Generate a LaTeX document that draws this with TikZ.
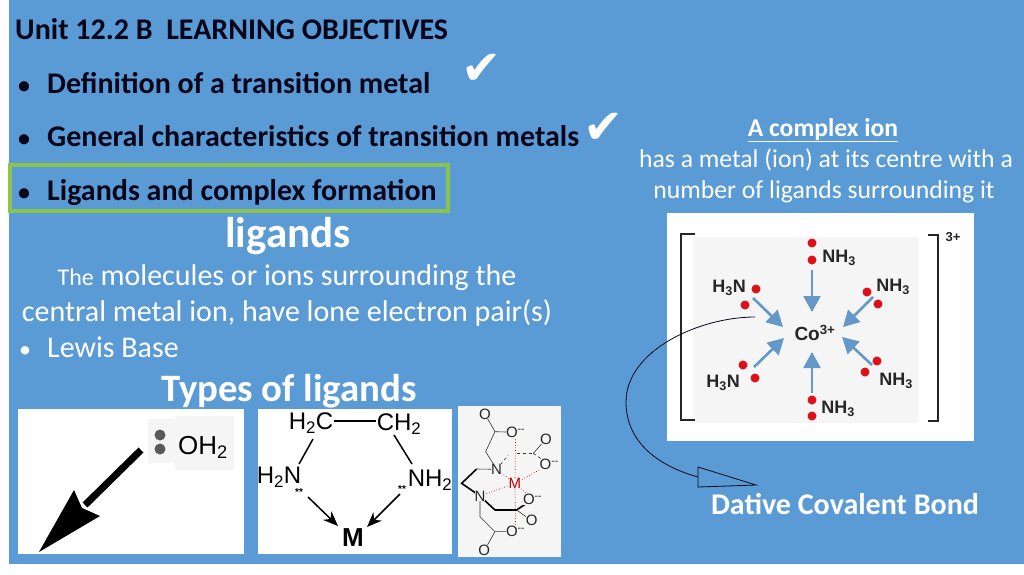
\documentclass[tikz,border=0pt]{standalone}
\usepackage{fontspec}
\setmainfont{Carlito}
\newfontfamily\helv{Liberation Sans}
\newfontfamily\checkfont{DejaVu Sans}
\usetikzlibrary{arrows.meta}
\definecolor{slideblue}{HTML}{5B9BD5}
\definecolor{boxgreen}{HTML}{8BC34F}
\definecolor{ink}{HTML}{06061A}
\definecolor{dotred}{HTML}{E0101A}
\definecolor{arrowblue}{HTML}{6498C8}
\definecolor{pale}{HTML}{F5F5F5}
\newcommand{\fs}[1]{\fontsize{#1}{#1}\selectfont}
\newcommand{\sbs}[1]{\textsubscript{#1}}
\tikzset{
  x=1pt,y=-1pt,
  obj/.style={font=\fs{30}\bfseries,text=ink,anchor=base west,inner sep=0pt},
  bul/.style={font=\fs{24}\bfseries,text=ink,anchor=base west,inner sep=0pt},
  wtext/.style={font=\fs{30},text=white,anchor=base,inner sep=0pt},
  whead/.style={font=\fs{43}\bfseries,text=white,anchor=base,inner sep=0pt},
  chk/.style={font=\checkfont\fs{48},text=white,inner sep=0pt},
  panel/.style={fill=white,draw=none},
  chem/.style={font=\helv\fs{18}\bfseries,text=black!85,inner sep=0pt},
  edot/.style={circle,fill=dotred,minimum size=9pt,inner sep=0pt},
  bluearrow/.style={draw=arrowblue,line width=2.6pt,-{Triangle[length=16pt,width=17pt,fill=arrowblue]}},
  bond/.style={line width=1.5pt,black},
  ethlab/.style={font=\helv\fs{24},inner sep=0pt},
  edta/.style={line width=0.6pt,black!80},
  edtab/.style={line width=1.6pt,black},
  edtar/.style={line width=0.7pt,dotted,red!75!black},
  edtal/.style={font=\helv\fs{15},inner sep=0pt,fill=pale,text=black!85},
}
\begin{document}
\begin{tikzpicture}
\useasboundingbox (0,0) rectangle (1024,574);
\fill[white] (0,0) rectangle (1024,574);
\fill[slideblue] (9,0) rectangle (1024,564);

% objectives
\node[obj] (t0) at (15,39.5) {Unit 12.2 B\ \ LEARNING OBJECTIVES};
\node[bul] (b1) at (18,93) {\textbullet};
\node[obj] (t1) at (47,93.5) {Definition of a transition metal};
\node[bul] (b2) at (18,146) {\textbullet};
\node[obj] (t2) at (47,146.5) {General characteristics of transition metals};
\node[bul] (b3) at (18,200) {\textbullet};
\node[obj] (t3) at (47,200.5) {Ligands and complex formation};
\node[chk] (c1) at (482,69) {\char"2714};
\node[chk] (c2) at (604,128) {\char"2714};
\node[draw=boxgreen,line width=4pt,minimum width=438pt,minimum height=46pt,inner sep=0pt] (green) at (229,187.5) {};

% ligands text
\node[whead] (lig) at (288,247) {ligands};
\node[wtext] (l1) at (287,285) {{\fs{24}The} molecules or ions surrounding the};
\node[wtext] (l2) at (287,321) {central metal ion, have lone electron pair(s)};
\node[wtext,anchor=base west,font=\fs{24}] (l3) at (19,357) {\textbullet};
\node[wtext,anchor=base west] (l3b) at (47,357) {Lewis Base};
\node[whead,font=\fs{38.8}\bfseries] (types) at (289,401) {Types of ligands};

% complex ion text
\node[wtext,font=\fs{25.6}\bfseries] (ci0) at (823,136) {\underline{A complex ion}};
\node[wtext,font=\fs{25.7}] (ci1) at (826,167) {has a metal (ion) at its centre with a};
\node[wtext,font=\fs{25.7}] (ci2) at (824,198) {number of ligands surrounding it};
\node[whead,font=\fs{30}\bfseries] (dative) at (845,514) {Dative Covalent Bond};

% complex panel
\fill[white] (667,213) rectangle (974,441);
\fill[pale] (693,237) rectangle (918,423);
\draw[line width=1.2pt,black!85] (695,234) -- (681,234) -- (681,420) -- (695,420);
\draw[line width=1.2pt,black!85] (928,235) -- (938,235) -- (938,421) -- (928,421);
\node[chem,font=\helv\fs{13}\bfseries] (charge) at (953,237) {3+};
\node[chem,font=\helv\fs{19}\bfseries] (co) at (815,333) {Co\textsuperscript{3+}};
\node[chem] (n1) at (839,258) {NH\sbs{3}};
\node[chem] (n2) at (893,287) {NH\sbs{3}};
\node[chem] (n3) at (896,381) {NH\sbs{3}};
\node[chem] (n4) at (838,409) {NH\sbs{3}};
\node[chem] (n5) at (723,383) {H\sbs{3}N};
\node[chem] (n6) at (729,288) {H\sbs{3}N};
\foreach \nm/\px/\py in {d1/812/243,d2/812/260,d3/867/292,d4/878/304,d5/877/361,d6/865/372,d7/812/400,d8/812/416,d9/743/365,d10/755/378,d11/756/289,d12/745/305}
  \node[edot] (\nm) at (\px,\py) {};
\coordinate (a1s) at (812,270); \coordinate (a1e) at (812,312);
\coordinate (a2s) at (873,297); \coordinate (a2e) at (843,327);
\coordinate (a3s) at (872,365); \coordinate (a3e) at (842,337);
\coordinate (a4s) at (812,393); \coordinate (a4e) at (812,352);
\coordinate (a5s) at (754,367); \coordinate (a5e) at (784,338);
\coordinate (a6s) at (753,298); \coordinate (a6e) at (783,327);
\foreach \i in {1,...,6} \draw[bluearrow] (a\i s) -- (a\i e);

% dative callout
\coordinate (cs) at (755,317);
\coordinate (ce) at (698,477);
\draw[line width=0.8pt,ink] (cs) .. controls (700,317) and (626,350) .. (626,402) .. controls (626,440) and (655,465) .. (ce);
\coordinate (h1) at (698,467); \coordinate (h2) at (698,487); \coordinate (h3) at (756,485);
\draw[line width=0.8pt,ink] (h1) -- (h3) -- (h2) -- cycle;

% water panel
\fill[panel] (18,409) rectangle (244,554);
\fill[pale] (148,419) rectangle (175,463);
\fill[pale] (175,416) rectangle (234,470);
\node[circle,fill=black!65,minimum size=11pt,inner sep=0pt] (w1) at (160,435) {};
\node[circle,fill=black!65,minimum size=11pt,inner sep=0pt] (w2) at (160,449) {};
\node[font=\helv\fs{26},inner sep=0pt] (oh2) at (203,447) {OH\sbs{2}};
\coordinate (wa) at (141,450); \coordinate (wb) at (85,505);
\draw[line width=7pt,black] (wa) -- (wb);
\fill[black] (74,490) -- (82,508) -- (100,516) -- (39,552) -- cycle;

% ethylenediamine panel
\fill[panel] (258,409) rectangle (452,554);
\node[ethlab] (ch2a) at (311,423) {H\sbs{2}C};
\node[ethlab] (ch2b) at (399,424) {CH\sbs{2}};
\node[ethlab] (nh2a) at (279,477) {H\sbs{2}N};
\node[ethlab] (nh2b) at (430,480) {NH\sbs{2}};
\node[font=\helv\fs{26}\bfseries,inner sep=0pt] (mm) at (353,538) {M};
\node[font=\helv\fs{10}\bfseries,inner sep=0pt] (s1) at (299,492) {**};
\node[font=\helv\fs{10}\bfseries,inner sep=0pt] (s2) at (402,489) {**};
\draw[bond] (334,421) coordinate (e1) -- (376,421) coordinate (e2);
\draw[bond] (313,439) coordinate (e3) -- (299,464) coordinate (e4);
\draw[bond] (394,435) coordinate (e5) -- (412,464) coordinate (e6);
\draw[line width=1.5pt,-{Stealth[length=15pt,width=12pt]}] (s1) ++(9,5) -- (338,526);
\draw[line width=1.5pt,-{Stealth[length=15pt,width=12pt]}] (s2) ++(-2,5) -- (367,527);

% edta panel
\fill[pale] (458,406) rectangle (561,557);
\begin{scope}[shift={(250,400)},x=0.3333pt,y=-0.3333pt]
  \coordinate (ot) at (705,42); \coordinate (c1a) at (735,95); \coordinate (om1) at (797,97);
  \coordinate (c1b) at (707,155); \coordinate (n1a) at (740,208); \coordinate (br1) at (680,207);
  \coordinate (br2) at (635,250); \coordinate (n2a) at (690,288); \coordinate (c2b) at (690,350);
  \coordinate (c2a) at (735,395); \coordinate (om2) at (797,395); \coordinate (ob) at (703,452);
  \coordinate (c3b) at (735,330); \coordinate (c3a) at (800,330); \coordinate (om3) at (848,298);
  \coordinate (o3) at (845,362); \coordinate (c4a) at (850,160); \coordinate (o4) at (888,117);
  \coordinate (om4) at (898,193); \coordinate (mc) at (795,250);
  \draw[edtar] (mc) -- (om1); \draw[edtar] (mc) -- (om2); \draw[edtar] (mc) -- (om3);
  \draw[edtar] (mc) -- (om4); \draw[edtar] (mc) -- (n1a); \draw[edtar] (mc) -- (n2a);
  \draw[edta] (om1) -- (c1a) -- (c1b) -- (n1a) -- (br1);
  \draw[edta] (ot) -- (c1a);
  \draw[edta] (n2a) -- (c2b) -- (c2a) -- (om2);
  \draw[edta] (c2a) -- (ob);
  \draw[edtab] (br1) -- (br2) -- (n2a) -- (c3b) -- (c3a) -- (om3);
  \draw[edta] (c3a) -- (o3);
  \draw[edta,dashed] (n1a) -- (775,165);
  \draw[edta,dashed] (800,160) -- (c4a);
  \draw[edta] (c4a) -- (o4);
  \draw[edta,dashed] (c4a) -- (om4);
  \node[edtal] at (ot) {O}; \node[edtal] at (om1) {O\textsuperscript{--}};
  \node[edtal] at (n1a) {N}; \node[edtal] at (n2a) {N};
  \node[edtal] at (om2) {O\textsuperscript{--}}; \node[edtal] at (ob) {O};
  \node[edtal] at (om3) {O\textsuperscript{--}}; \node[edtal] at (o3) {O};
  \node[edtal] at (o4) {O}; \node[edtal] at (om4) {O\textsuperscript{--}};
  \node[edtal,text=red!75!black] at (mc) {M};
\end{scope}
\end{tikzpicture}
\end{document}
